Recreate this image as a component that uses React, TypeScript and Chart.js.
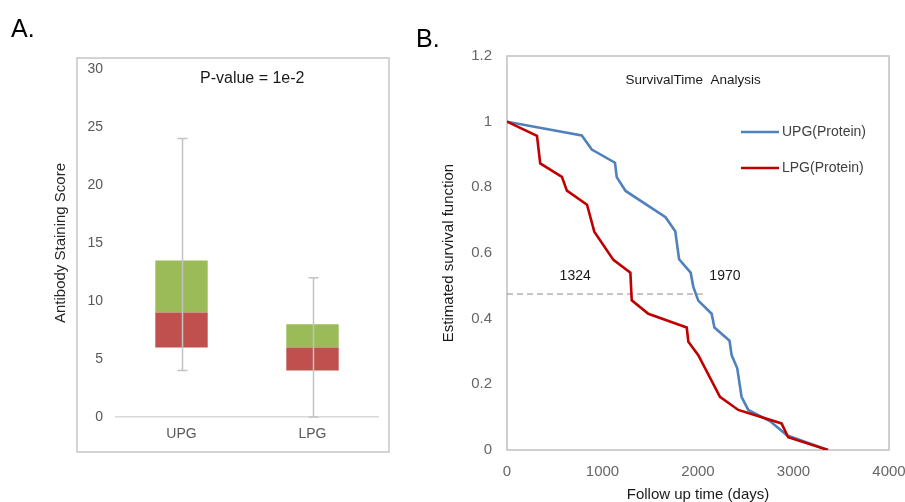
import React, { useEffect, useRef } from 'react';
import { Chart, registerables } from 'chart.js';
Chart.register(...registerables);

const FONT = "'Liberation Sans', Arial, sans-serif";

// ---- Panel A data (box plot) ----
const boxCategories = ['UPG', 'LPG'];
const boxQ1 = [6, 4];
const boxMedian = [9, 6];
const boxQ3 = [13.5, 8];
const whiskerLow = [4, 0];
const whiskerHigh = [24, 12];
const panelAYTicks = { min: 0, max: 30, step: 5 };
const pValueText = 'P-value = 1e-2';

// ---- Panel B data (survival curves) ----
const upgDays = [0, 783, 888, 1131, 1149, 1242, 1660, 1762, 1802, 1923, 1951, 2003, 2143, 2172, 2330, 2352, 2411, 2456, 2526, 2753, 2935, 3360];
const upgSurvival = [1.0, 0.958, 0.915, 0.875, 0.831, 0.789, 0.709, 0.666, 0.581, 0.54, 0.497, 0.455, 0.415, 0.373, 0.333, 0.289, 0.249, 0.162, 0.122, 0.088, 0.044, 0];
const lpgDays = [0, 314, 348, 575, 627, 838, 914, 1114, 1292, 1306, 1480, 1882, 1899, 2003, 2230, 2422, 2875, 2944, 3362];
const lpgSurvival = [1.0, 0.957, 0.873, 0.832, 0.79, 0.747, 0.665, 0.579, 0.54, 0.456, 0.415, 0.373, 0.33, 0.289, 0.162, 0.122, 0.081, 0.039, 0];
const medianLineX = [0, 2050];
const medianLineY = [0.475, 0.475];
const medianLabels = ['1324', '1970'];
const medianLabelX = [714, 2282];
const medianLabelY = 0.53;
const survivalTitle = 'SurvivalTime  Analysis';

const UPG_COLOR = '#4F81BD';
const LPG_COLOR = '#C00000';

export default function App() {
  const refA = useRef<HTMLCanvasElement>(null);
  const refB = useRef<HTMLCanvasElement>(null);

  useEffect(() => {
    // ---------- Panel A ----------
    const panelAPlugin = {
      id: 'panelA',
      beforeDraw(chart: any) {
        const ctx = chart.ctx;
        ctx.save();
        ctx.strokeStyle = '#c6c6c6';
        ctx.lineWidth = 1.5;
        const ca = chart.chartArea;
        ctx.strokeRect(ca.left - 39, ca.top - 11, ca.right - ca.left + 50, ca.bottom - ca.top + 46);
        ctx.fillStyle = '#000';
        ctx.font = `25px ${FONT}`;
        ctx.textAlign = 'left';
        ctx.textBaseline = 'alphabetic';
        ctx.fillText('A.', 11, 37);
        ctx.restore();
      },
      afterDatasetsDraw(chart: any) {
        const { ctx, scales } = chart;
        const x = scales.x, y = scales.y;
        ctx.save();
        ctx.strokeStyle = '#c3c3c3';
        ctx.lineWidth = 1.5;
        boxCategories.forEach((_, i) => {
          const px = Math.round(x.getPixelForValue(i)) + 0.5;
          const top = y.getPixelForValue(whiskerHigh[i]);
          const bot = y.getPixelForValue(whiskerLow[i]);
          ctx.beginPath();
          ctx.moveTo(px, top);
          ctx.lineTo(px, bot);
          ctx.moveTo(px - 5, top);
          ctx.lineTo(px + 5, top);
          ctx.moveTo(px - 5, bot);
          ctx.lineTo(px + 5, bot);
          ctx.stroke();
        });
        const ca = chart.chartArea;
        ctx.fillStyle = '#1a1a1a';
        ctx.font = `16px ${FONT}`;
        ctx.textAlign = 'center';
        ctx.textBaseline = 'middle';
        ctx.fillText(pValueText, ca.left + (ca.right - ca.left) * 0.52, ca.top + 10);
        ctx.restore();
      },
    };

    const chartA = new Chart(refA.current!, {
      type: 'bar',
      data: {
        labels: boxCategories,
        datasets: [
          {
            label: 'Q1-Median',
            data: boxCategories.map((_, i) => [boxQ1[i], boxMedian[i]]),
            backgroundColor: '#C0504D',
            borderWidth: 0,
            grouped: false,
            barPercentage: 0.4,
            categoryPercentage: 1,
          } as any,
          {
            label: 'Median-Q3',
            data: boxCategories.map((_, i) => [boxMedian[i], boxQ3[i]]),
            backgroundColor: '#9BBB59',
            borderWidth: 0,
            grouped: false,
            barPercentage: 0.4,
            categoryPercentage: 1,
          } as any,
        ],
      },
      options: {
        responsive: false,
        animation: false,
        layout: { padding: { top: 69, right: 22, left: 0, bottom: 0 } },
        plugins: { legend: { display: false }, tooltip: { enabled: false } },
        scales: {
          x: {
            grid: { display: false, drawTicks: false },
            border: { display: true, color: '#d9d9d9', width: 1.5 },
            ticks: { color: '#595959', font: { size: 14, family: FONT }, padding: 9 },
            afterFit: (s: any) => { s.height = 85; },
          },
          y: {
            min: panelAYTicks.min,
            max: panelAYTicks.max,
            grid: { display: false, drawTicks: false },
            border: { display: false },
            ticks: { stepSize: panelAYTicks.step, color: '#595959', font: { size: 14, family: FONT }, padding: 13 },
            title: { display: true, text: 'Antibody Staining Score', color: '#262626', font: { size: 15, family: FONT }, padding: { top: 52, bottom: 0 } },
            afterFit: (s: any) => { s.width = 116; },
          },
        },
      } as any,
      plugins: [panelAPlugin],
    });

    // ---------- Panel B ----------
    const panelBPlugin = {
      id: 'panelB',
      beforeDatasetsDraw(chart: any) {
        const { ctx, chartArea: ca } = chart;
        ctx.save();
        ctx.strokeStyle = '#c0c0c0';
        ctx.lineWidth = 1.5;
        ctx.strokeRect(ca.left, ca.top, ca.right - ca.left, ca.bottom - ca.top);
        ctx.restore();
      },
      afterDraw(chart: any) {
        const { ctx, chartArea: ca, scales } = chart;
        const x = scales.x, y = scales.y;
        ctx.save();
        // panel letter
        ctx.fillStyle = '#000';
        ctx.font = `25px ${FONT}`;
        ctx.textAlign = 'left';
        ctx.textBaseline = 'alphabetic';
        ctx.fillText('B.', 16, 47);
        // chart title
        ctx.fillStyle = '#1a1a1a';
        ctx.font = `13.5px ${FONT}`;
        ctx.textAlign = 'center';
        ctx.textBaseline = 'middle';
        ctx.fillText(survivalTitle, ca.left + (ca.right - ca.left) * 0.487, ca.top + 24);
        // median labels
        ctx.font = `14px ${FONT}`;
        medianLabels.forEach((t, i) => {
          ctx.fillText(t, x.getPixelForValue(medianLabelX[i]), y.getPixelForValue(medianLabelY));
        });
        // legend
        const ds = chart.data.datasets.filter((d: any) => d.showInLegend);
        ctx.font = `14px ${FONT}`;
        ctx.textAlign = 'left';
        ds.forEach((d: any, i: number) => {
          const ly = ca.top + 76 + i * 36;
          const lx = ca.left + 234;
          ctx.strokeStyle = d.borderColor;
          ctx.lineWidth = 2.5;
          ctx.beginPath();
          ctx.moveTo(lx, ly);
          ctx.lineTo(lx + 38, ly);
          ctx.stroke();
          ctx.fillStyle = '#404040';
          ctx.fillText(d.label, lx + 41, ly);
        });
        ctx.restore();
      },
    };

    const chartB = new Chart(refB.current!, {
      type: 'line',
      data: {
        datasets: [
          {
            label: 'UPG(Protein)',
            showInLegend: true,
            data: upgDays.map((d, i) => ({ x: d, y: upgSurvival[i] })),
            borderColor: UPG_COLOR,
            borderWidth: 2.6,
            pointRadius: 0,
            tension: 0,
            order: 2,
          } as any,
          {
            label: 'LPG(Protein)',
            showInLegend: true,
            data: lpgDays.map((d, i) => ({ x: d, y: lpgSurvival[i] })),
            borderColor: LPG_COLOR,
            borderWidth: 2.6,
            pointRadius: 0,
            tension: 0,
            order: 1,
          } as any,
          {
            label: 'median',
            showInLegend: false,
            data: medianLineX.map((d, i) => ({ x: d, y: medianLineY[i] })),
            borderColor: '#8c8c8c',
            borderWidth: 1,
            borderDash: [6, 4],
            pointRadius: 0,
            order: 3,
          } as any,
        ],
      },
      options: {
        responsive: false,
        animation: false,
        layout: { padding: { top: 56, right: 0, left: 0, bottom: 0 } },
        plugins: { legend: { display: false }, tooltip: { enabled: false } },
        scales: {
          x: {
            type: 'linear',
            min: 0,
            max: 4000,
            grid: { display: false, drawTicks: false },
            border: { display: false },
            ticks: { stepSize: 1000, color: '#666666', font: { size: 15, family: FONT }, padding: 13, callback: (v: any) => String(v) },
            title: { display: true, text: 'Follow up time (days)', color: '#1a1a1a', font: { size: 15, family: FONT, lineHeight: 1 }, padding: { top: 0, bottom: 0 } },
            afterFit: (s: any) => { s.height = 52; s.paddingRight = 16; s.paddingLeft = 0; },
          },
          y: {
            min: 0,
            max: 1.2,
            grid: { display: false, drawTicks: false },
            border: { display: false },
            ticks: { stepSize: 0.2, color: '#666666', font: { size: 15, family: FONT }, padding: 15, callback: (v: any) => String(Math.round(v * 10) / 10) },
            title: { display: true, text: 'Estimated survival function', color: '#1a1a1a', font: { size: 15, family: FONT }, padding: { top: 40, bottom: 0 } },
            afterFit: (s: any) => { s.width = 107; },
          },
        },
      } as any,
      plugins: [panelBPlugin],
    });

    return () => {
      chartA.destroy();
      chartB.destroy();
    };
  }, []);

  return (
    <div style={{ position: 'absolute', left: 0, top: 0, width: 905, height: 502, background: '#fff', overflow: 'hidden' }}>
      <div style={{ position: 'absolute', left: 0, top: 0, width: 400, height: 502 }}>
        <canvas ref={refA} width={400} height={502} style={{ display: 'block' }} />
      </div>
      <div style={{ position: 'absolute', left: 400, top: 0, width: 505, height: 502 }}>
        <canvas ref={refB} width={505} height={502} style={{ display: 'block' }} />
      </div>
    </div>
  );
}
